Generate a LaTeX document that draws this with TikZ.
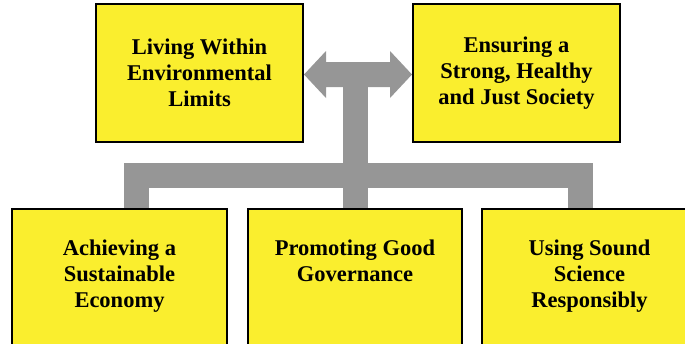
\documentclass[tikz,border=0pt]{standalone}
\usepackage{fontspec}
\setmainfont{Liberation Serif}
\usetikzlibrary{calc, backgrounds}
\definecolor{boxyellow}{RGB}{250,238,46}
\definecolor{linkgray}{RGB}{150,150,150}
\begin{document}
\begin{tikzpicture}[x=1pt, y=-1pt,
    goalbox/.style={draw=black, line width=2pt, fill=boxyellow},
    goaltext/.style={align=center, font=\bfseries\fontsize{22.5}{26}\selectfont, inner sep=0pt},
    link/.style={line width=25pt, draw=linkgray}]
        \useasboundingbox (0,0) rectangle (685,343);

        % Top boxes
        \node[goalbox, goaltext, minimum width=207pt, minimum height=138pt] (env) at (199.5,73) {Living Within\\Environmental\\Limits};
        \node[goalbox, goaltext, minimum width=207pt, minimum height=138pt] (soc) at (516.5,73) {Ensuring a\\Strong, Healthy\\and Just Society};

        % Bottom boxes
        \node[goalbox, minimum width=215pt, minimum height=140pt, anchor=north] (eco) at (119.5,208) {};
        \node[goalbox, minimum width=214pt, minimum height=140pt, anchor=north] (gov) at (355,208) {};
        \node[goalbox, minimum width=215pt, minimum height=140pt, anchor=north] (sci) at (589.5,208) {};
        \node[goaltext, anchor=north] (ecotext) at ($(eco.north)+(0,32)$) {Achieving a\\Sustainable\\Economy};
        \node[goaltext, anchor=north] (govtext) at ($(gov.north)+(0,32)$) {Promoting Good\\Governance};
        \node[goaltext, anchor=north] (scitext) at ($(sci.north)+(0,32)$) {Using Sound\\Science\\Responsibly};

        \begin{scope}[on background layer]
        % Stem and branches
        \coordinate (hub) at (355,175.5);
        \draw[link] (gov.north) -- ($(gov.north |- env.east)+(0,1.5)$);
        \draw[link] ($(eco.north)+(17,0)$) |- (hub) -| ($(sci.north)+(-9,0)$);

        % Double arrow between the top boxes
        \fill[linkgray] ($(env.east)+(0,1.5)$) -- ($(env.east)+(22,-22)$) -- ($(env.east)+(22,-11)$)
            -- ($(soc.west)+(-22,-11)$) -- ($(soc.west)+(-22,-22)$) -- ($(soc.west)+(0,1.5)$)
            -- ($(soc.west)+(-22,25)$) -- ($(soc.west)+(-22,14)$)
            -- ($(env.east)+(22,14)$) -- ($(env.east)+(22,25)$) -- cycle;
        \end{scope}

\end{tikzpicture}
\end{document}
